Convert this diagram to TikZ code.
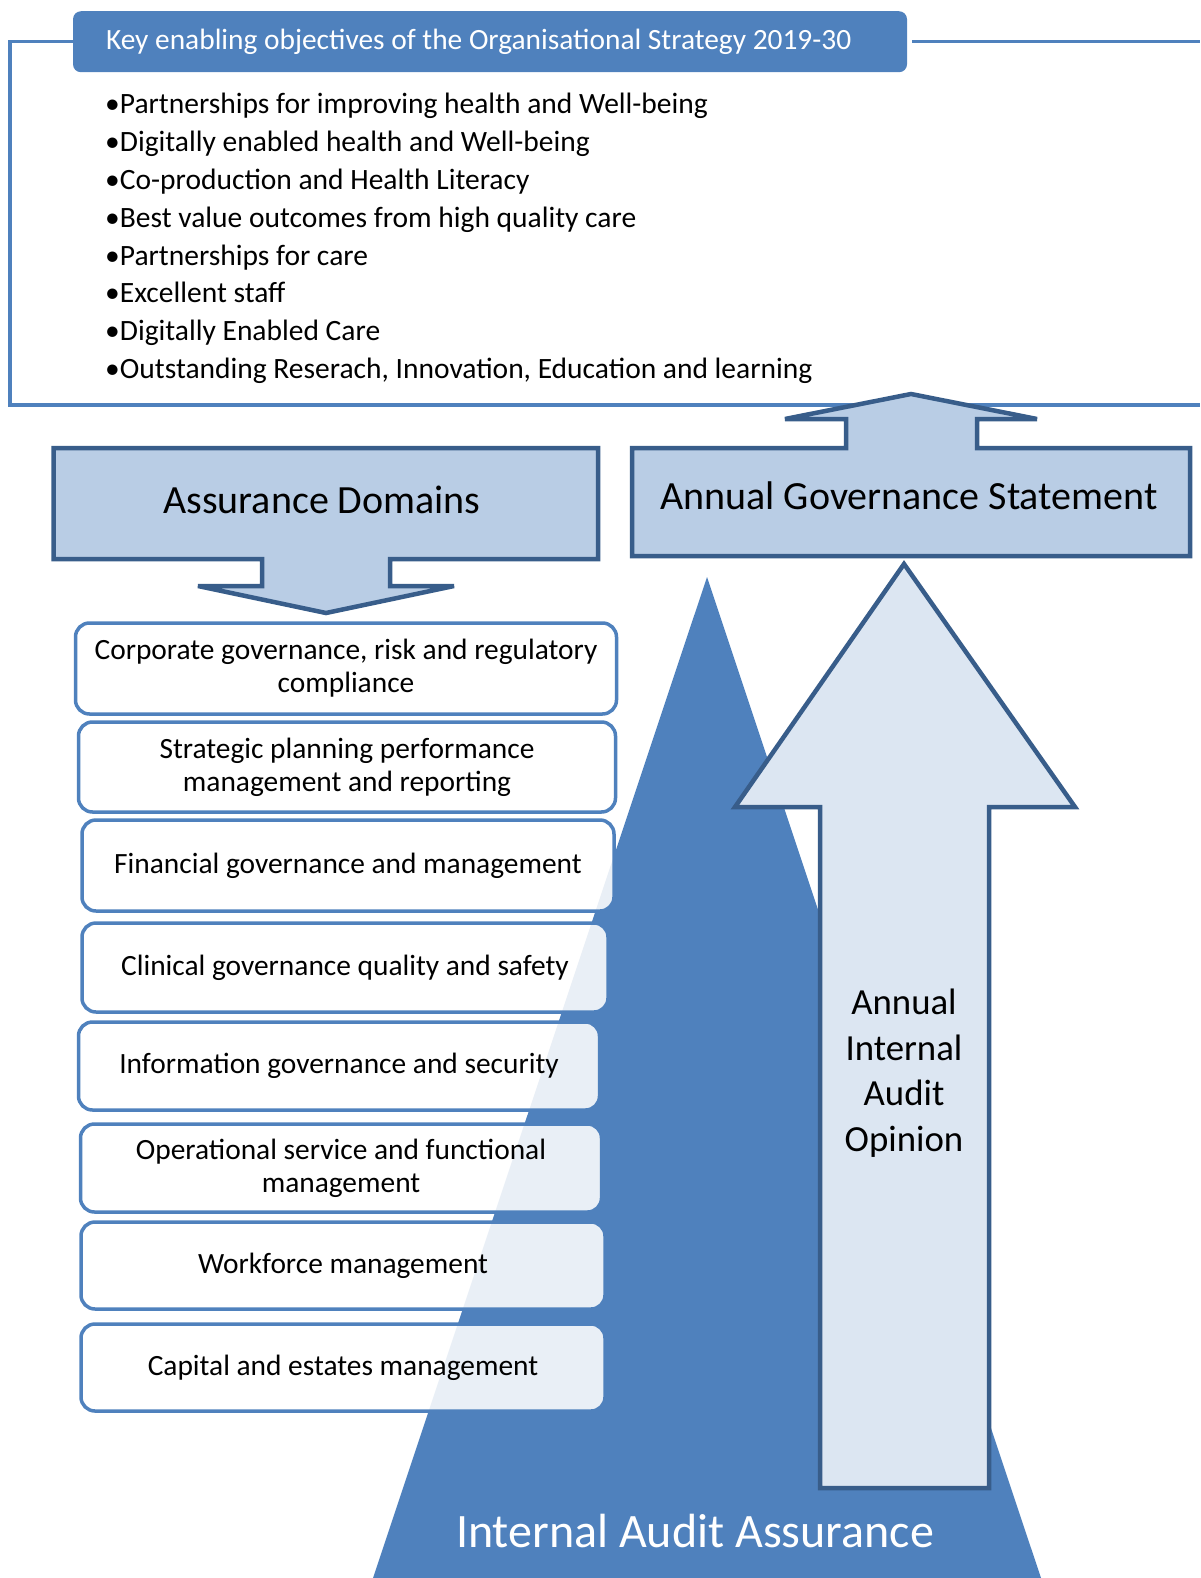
\documentclass[tikz,border=0pt]{standalone}
\usepackage{fontspec}
\setmainfont{Carlito}
\definecolor{midblue}{HTML}{4F81BD}
\definecolor{darkblue}{HTML}{385D8A}
\definecolor{paleblue}{HTML}{B9CDE5}
\definecolor{mistblue}{HTML}{DCE6F2}

\begin{document}
\begin{tikzpicture}[x=1pt,y=-1pt,
  objective/.style={anchor=base west,inner sep=0pt,font=\fontsize{29.5}{34}\selectfont},
  domainbox/.style={draw=midblue,line width=3.5pt,rounded corners=14pt,fill=white,fill opacity=0.88,text opacity=1,
    align=center,inner sep=0pt,font=\fontsize{29.4}{33}\selectfont},
  blockarrow/.style={draw=darkblue,line width=4.5pt,fill=paleblue,line join=miter,miter limit=3},
  bigtext/.style={font=\fontsize{40}{48}\selectfont}]
\useasboundingbox (0,0) rectangle (1200,1578);

% strategy frame
\node[fill=midblue,rounded corners=8pt,minimum width=834pt,minimum height=61pt] (hdr) at (490,41.75) {};
\node[anchor=west,inner sep=0pt,text=white,font=\fontsize{29.4}{34}\selectfont] (hdrtxt) at ([xshift=33pt]hdr.west)
  {Key enabling objectives of the Organisational Strategy 2019-30};
\draw[midblue,line width=3.5pt] (hdr.west) -- (10,41.75) -- (10,405) -- (1200,405);
\draw[midblue,line width=3.5pt] ([xshift=5pt]hdr.east) -- (1200,41.75);

\node[objective] (o1) at (105,114) {•Partnerships for improving health and Well-being};
\node[objective] (o2) at (105,151.8) {•Digitally enabled health and Well-being};
\node[objective] (o3) at (105,189.6) {•Co-production and Health Literacy};
\node[objective] (o4) at (105,227.4) {•Best value outcomes from high quality care};
\node[objective] (o5) at (105,265.2) {•Partnerships for care};
\node[objective] (o6) at (105,303) {•Excellent staff};
\node[objective] (o7) at (105,340.8) {•Digitally Enabled Care};
\node[objective] (o8) at (105,378.6) {•Outstanding Reserach, Innovation, Education and learning};

% audit assurance pyramid
\fill[midblue] (707,577) -- (1041,1578) -- (373,1578) -- cycle;
\node[text=white,font=\fontsize{48}{56}\selectfont] (ia) at (695,1531) {Internal Audit Assurance};

% opinion arrow
\draw[blockarrow,fill=mistblue] (820,1488) -- (820,807) -- (735,807) -- (904,564) -- (1075,807) -- (989,807) -- (989,1488) -- cycle;
\node[align=center,font=\fontsize{36.8}{45.5}\selectfont] (op) at (904,1073) {Annual\\Internal\\Audit\\Opinion};

% governance statement arrow
\draw[blockarrow] (632,556) -- (632,448) -- (846,448) -- (846,419) -- (785,419) -- (911,394) -- (1037,419)
  -- (977,419) -- (977,448) -- (1190,448) -- (1190,556) -- cycle;
\node[bigtext] (ags) at (909,496) {Annual Governance Statement};

% assurance domains arrow
\draw[blockarrow] (53.5,448) -- (598,448) -- (598,559) -- (390,559) -- (390,586) -- (454,586) -- (326,613)
  -- (198,586) -- (262,586) -- (262,559) -- (53.5,559) -- cycle;
\node[bigtext] (ad) at (322,500) {Assurance Domains};

% domains
\node[domainbox,minimum width=541pt,minimum height=91pt] (d1) at (346,668.5) {Corporate governance, risk and regulatory\\compliance};
\node[domainbox,minimum width=537pt,minimum height=90pt] (d2) at (347,767) {Strategic planning performance\\management and reporting};
\node[domainbox,minimum width=532pt,minimum height=91pt] (d3) at (348,865.5) {Financial governance and management};
\node[domainbox,minimum width=526pt,minimum height=89pt] (d4) at (345,967.5) {Clinical governance quality and safety};
\node[domainbox,minimum width=521pt,minimum height=88pt] (d5) at (339,1066) {Information governance and security};
\node[domainbox,minimum width=521pt,minimum height=88pt] (d6) at (341,1168) {Operational service and functional\\management};
\node[domainbox,minimum width=524pt,minimum height=87pt] (d7) at (343,1265.5) {Workforce management};
\node[domainbox,minimum width=524pt,minimum height=87pt] (d8) at (343,1367.5) {Capital and estates management};
\end{tikzpicture}
\end{document}
